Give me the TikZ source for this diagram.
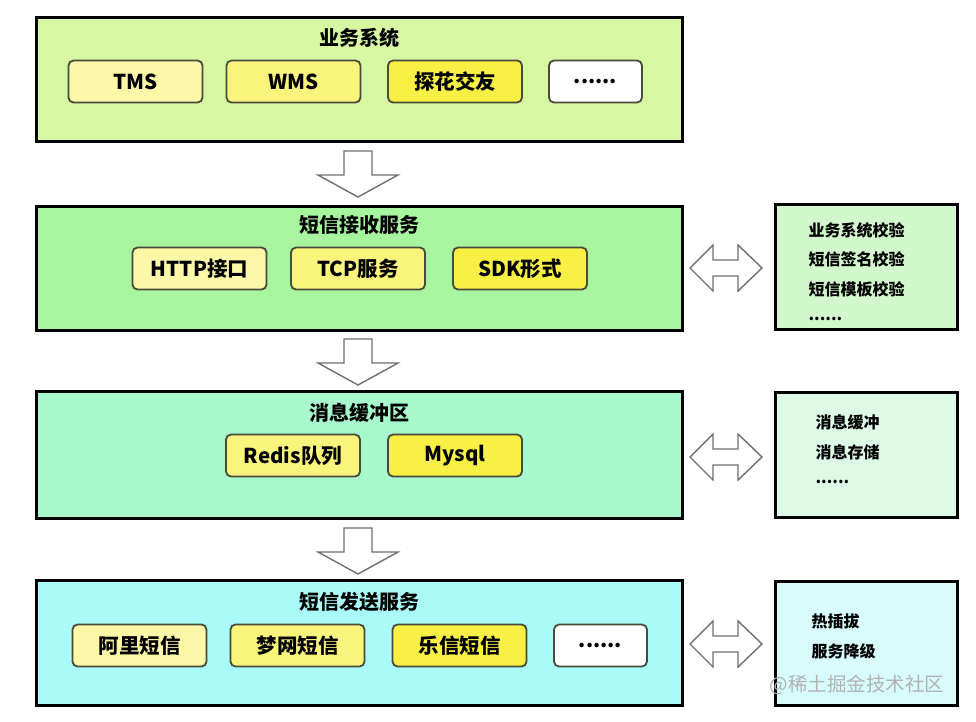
\documentclass[tikz,border=0pt]{standalone}
\usepackage{fontspec}
\setmainfont{Noto Sans CJK SC}
\usetikzlibrary{positioning}
\definecolor{bgA}{HTML}{D8F7A2}
\definecolor{bgB}{HTML}{A8F5A0}
\definecolor{bgC}{HTML}{A8F8CE}
\definecolor{bgD}{HTML}{A8FBF8}
\definecolor{sideA}{HTML}{D2F7CC}
\definecolor{sideB}{HTML}{DDFAE6}
\definecolor{sideC}{HTML}{D8FCFC}
\definecolor{yA}{HTML}{FDF8A8}
\definecolor{yB}{HTML}{FBF47C}
\definecolor{yC}{HTML}{F8F044}
\definecolor{edgeG}{HTML}{4A4A3A}
\definecolor{arrG}{HTML}{707070}
\tikzset{
  layer/.style={draw=black, line width=3pt, minimum width=646pt, minimum height=124pt, inner sep=0pt},
  side/.style={draw=black, line width=3pt, minimum width=182pt, minimum height=125pt, inner sep=0pt},
  item/.style={draw=edgeG, line width=1.8pt, rounded corners=5pt, minimum width=134pt, minimum height=42pt, inner sep=0pt, font=\fontsize{20.5}{22}\selectfont\bfseries},
  dots/.style={item, fill=white, minimum width=93pt},
  ttl/.style={font=\fontsize{20}{22}\selectfont\bfseries},
  stxt/.style={anchor=west, font=\fontsize{16}{18}\selectfont\bfseries},
  blk/.style={draw=arrG, line width=1.4pt, fill=white, line join=miter},
  downarr/.pic={\path[blk] (-14,0) -- (14,0) -- (14,24) -- (40,24) -- (0,46) -- (-40,24) -- (-14,24) -- cycle;},
  dblarr/.pic={\path[blk] (-36,0) -- (-13,-23) -- (-13,-8) -- (12,-8) -- (12,-23) -- (36,0) -- (12,23) -- (12,8) -- (-13,8) -- (-13,23) -- cycle;}
}
\begin{document}
\begin{tikzpicture}[x=1pt,y=-1pt]
\useasboundingbox (0,0) rectangle (976,721);
\fill[white] (0,0) rectangle (976,721);
% layer 1
\node[layer, fill=bgA] (L1) at (359,79) {};
\node[ttl] (t1) at (359,38) {业务系统};
\node[item, fill=yA] (tms) at (135.5,81.5) {TMS};
\node[item, fill=yB] (wms) at (293.5,81.5) {WMS};
\node[item, fill=yC] (thj) at (455,81.5) {探花交友};
\node[dots] (d1) at (595.5,81.5) {......};
% layer 2
\node[layer, fill=bgB] (L2) at (359,268) {};
\node[ttl] (t2) at (359,225) {短信接收服务};
\node[item, fill=yA] (http) at (199.5,268.5) {HTTP接口};
\node[item, fill=yB] (tcp) at (358,268.5) {TCP服务};
\node[item, fill=yC] (sdk) at (520,268.5) {SDK形式};
% layer 3
\node[layer, fill=bgC, minimum height=127pt] (L3) at (359,454.5) {};
\node[ttl] (t3) at (359,413) {消息缓冲区};
\node[item, fill=yB] (redis) at (293,455.5) {Redis队列};
\node[item, fill=yC] (mysql) at (455,455.5) {Mysql};
% layer 4
\node[layer, fill=bgD, minimum height=125pt] (L4) at (359,642.5) {};
\node[ttl] (t4) at (359,602) {短信发送服务};
\node[item, fill=yA] (ali) at (139.5,645.5) {阿里短信};
\node[item, fill=yB] (mw) at (297.5,645.5) {梦网短信};
\node[item, fill=yC] (lx) at (459.5,645.5) {乐信短信};
\node[dots] (d4) at (600.5,645.5) {......};
% side boxes
\node[side, fill=sideA] (S2) at (866,267) {};
\node[stxt] (s21) at (805,230) {业务系统校验};
\node[stxt] (s22) at (805,259) {短信签名校验};
\node[stxt] (s23) at (805,289) {短信模板校验};
\node[stxt] (s24) at (805,319) {......};
\node[side, fill=sideB] (S3) at (866,455) {};
\node[stxt] (s31) at (812,422) {消息缓冲};
\node[stxt] (s32) at (812,452) {消息存储};
\node[stxt] (s33) at (812,482) {......};
\node[side, fill=sideC, minimum height=124pt] (S4) at (866,643) {};
\node[stxt] (s41) at (808,621) {热插拔};
\node[stxt] (s42) at (808,651) {服务降级};
% block arrows
\pic at (358,151) {downarr};
\pic at (358,339) {downarr};
\pic at (358,528) {downarr};
\pic at (726,268) {dblarr};
\pic at (726,457) {dblarr};
\pic at (726,644) {dblarr};
% watermark
\node[text=black!30, font=\fontsize{19.5}{21}\selectfont] (wm) at (857,685) {@稀土掘金技术社区};
\end{tikzpicture}
\end{document}
